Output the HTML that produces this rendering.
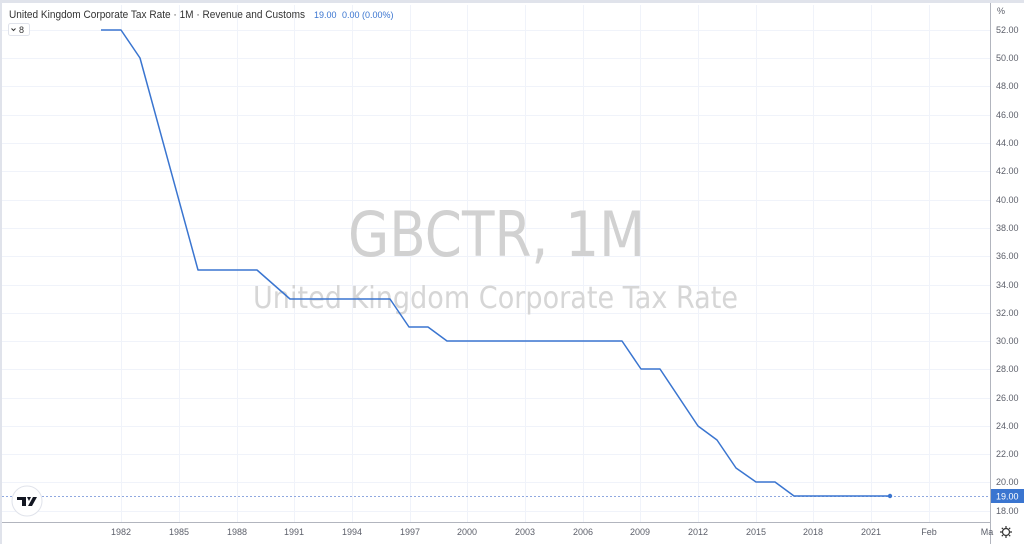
<!DOCTYPE html>
<html><head><meta charset="utf-8"><style>
body{margin:0;background:#fff;}
svg{display:block;font-family:"Liberation Sans",sans-serif;}
</style></head><body>
<svg width="1024" height="544" viewBox="0 0 1024 544" xmlns="http://www.w3.org/2000/svg">
<rect width="1024" height="544" fill="#fff"/>
<rect x="0" y="0" width="1024" height="3" fill="#e0e3eb"/>
<rect x="0" y="0" width="2" height="544" fill="#e0e3eb"/>
<g stroke="#f0f3fa" stroke-width="1">
<line x1="121.5" y1="5" x2="121.5" y2="522"/><line x1="179.5" y1="5" x2="179.5" y2="522"/><line x1="237.5" y1="5" x2="237.5" y2="522"/><line x1="294.5" y1="5" x2="294.5" y2="522"/><line x1="352.5" y1="5" x2="352.5" y2="522"/><line x1="410.5" y1="5" x2="410.5" y2="522"/><line x1="467.5" y1="5" x2="467.5" y2="522"/><line x1="525.5" y1="5" x2="525.5" y2="522"/><line x1="583.5" y1="5" x2="583.5" y2="522"/><line x1="640.5" y1="5" x2="640.5" y2="522"/><line x1="698.5" y1="5" x2="698.5" y2="522"/><line x1="756.5" y1="5" x2="756.5" y2="522"/><line x1="813.5" y1="5" x2="813.5" y2="522"/><line x1="871.5" y1="5" x2="871.5" y2="522"/><line x1="929.5" y1="5" x2="929.5" y2="522"/>
<line x1="2" y1="30.5" x2="990" y2="30.5"/><line x1="2" y1="58.5" x2="990" y2="58.5"/><line x1="2" y1="86.5" x2="990" y2="86.5"/><line x1="2" y1="115.5" x2="990" y2="115.5"/><line x1="2" y1="143.5" x2="990" y2="143.5"/><line x1="2" y1="171.5" x2="990" y2="171.5"/><line x1="2" y1="200.5" x2="990" y2="200.5"/><line x1="2" y1="228.5" x2="990" y2="228.5"/><line x1="2" y1="256.5" x2="990" y2="256.5"/><line x1="2" y1="285.5" x2="990" y2="285.5"/><line x1="2" y1="313.5" x2="990" y2="313.5"/><line x1="2" y1="341.5" x2="990" y2="341.5"/><line x1="2" y1="369.5" x2="990" y2="369.5"/><line x1="2" y1="398.5" x2="990" y2="398.5"/><line x1="2" y1="426.5" x2="990" y2="426.5"/><line x1="2" y1="454.5" x2="990" y2="454.5"/><line x1="2" y1="482.5" x2="990" y2="482.5"/><line x1="2" y1="511.5" x2="990" y2="511.5"/>
</g>
<text x="348" y="256" font-family="DejaVu Sans,sans-serif" font-size="62" fill="#d1d1d1" textLength="297" lengthAdjust="spacingAndGlyphs">GBCTR, 1M</text>
<text x="253" y="308" font-family="DejaVu Sans,sans-serif" font-size="30" fill="#d6d6d6" textLength="485" lengthAdjust="spacingAndGlyphs">United Kingdom Corporate Tax Rate</text>
<line x1="2" y1="496.5" x2="990" y2="496.5" stroke="#8fa8e0" stroke-width="1" stroke-dasharray="2,2"/>
<polyline fill="none" stroke="#3a75d0" stroke-width="1.5" stroke-linejoin="round" points="101,30 121,30 140,58 198,270 257,270 290,299 390,299 409,327 428,327 447,341 622,341 641,369 660,369 698,426 717,440 736,468 756,482 775,482 794,496 890,496"/>
<circle cx="890" cy="496" r="2.2" fill="#3a75d0"/>
<line x1="2" y1="522.5" x2="990" y2="522.5" stroke="#b2b5be"/>
<line x1="990.5" y1="3" x2="990.5" y2="544" stroke="#b2b5be"/>
<g font-size="9" fill="#5d606b" text-anchor="middle">
<text x="121" y="535">1982</text><text x="179" y="535">1985</text><text x="237" y="535">1988</text><text x="294" y="535">1991</text><text x="352" y="535">1994</text><text x="410" y="535">1997</text><text x="467" y="535">2000</text><text x="525" y="535">2003</text><text x="583" y="535">2006</text><text x="640" y="535">2009</text><text x="698" y="535">2012</text><text x="756" y="535">2015</text><text x="813" y="535">2018</text><text x="871" y="535">2021</text><text x="929" y="535">Feb</text><text x="987" y="535">Ma</text>
</g>
<g font-size="9" fill="#5d606b">
<text x="997" y="14">%</text>
<text x="996" y="33">52.00</text><text x="996" y="61">50.00</text><text x="996" y="89">48.00</text><text x="996" y="118">46.00</text><text x="996" y="146">44.00</text><text x="996" y="174">42.00</text><text x="996" y="203">40.00</text><text x="996" y="231">38.00</text><text x="996" y="259">36.00</text><text x="996" y="288">34.00</text><text x="996" y="316">32.00</text><text x="996" y="344">30.00</text><text x="996" y="372">28.00</text><text x="996" y="401">26.00</text><text x="996" y="429">24.00</text><text x="996" y="457">22.00</text><text x="996" y="485">20.00</text><text x="996" y="514">18.00</text>
</g>
<rect x="991" y="489" width="33" height="14" fill="#3a75d0"/>
<text x="996" y="499.5" font-size="9" fill="#fff">19.00</text>
<g transform="translate(1006,532)" stroke="#333" fill="none" stroke-width="1.2">
<circle r="3.5"/><path d="M0-6V-4M0 4V6M-6 0H-4M4 0H6M-4.2-4.2L-3-3M3 3L4.2 4.2M-4.2 4.2L-3 3M3-3L4.2-4.2"/>
</g>
<text x="9" y="18" font-size="11" fill="#333" textLength="296" lengthAdjust="spacingAndGlyphs">United Kingdom Corporate Tax Rate · 1M · Revenue and Customs</text>
<text x="314" y="18" font-size="9" fill="#3a75d0">19.00</text>
<text x="342" y="18" font-size="9" fill="#3a75d0">0.00 (0.00%)</text>
<rect x="8.5" y="23.5" width="21" height="12" rx="2" fill="#fff" stroke="#e0e3eb"/>
<path d="M11.5 28.5l2 2 2-2" stroke="#333" fill="none"/>
<text x="19" y="33" font-size="9" fill="#333">8</text>
<circle cx="27" cy="501" r="15" fill="#fff" stroke="#e0e3eb"/>
<path d="M17 497h9v9h-4v-6h-5z M27 497h4l-2 4zM33 497h4l-5 9h-4z" fill="#131722"/>
</svg>
</body></html>
